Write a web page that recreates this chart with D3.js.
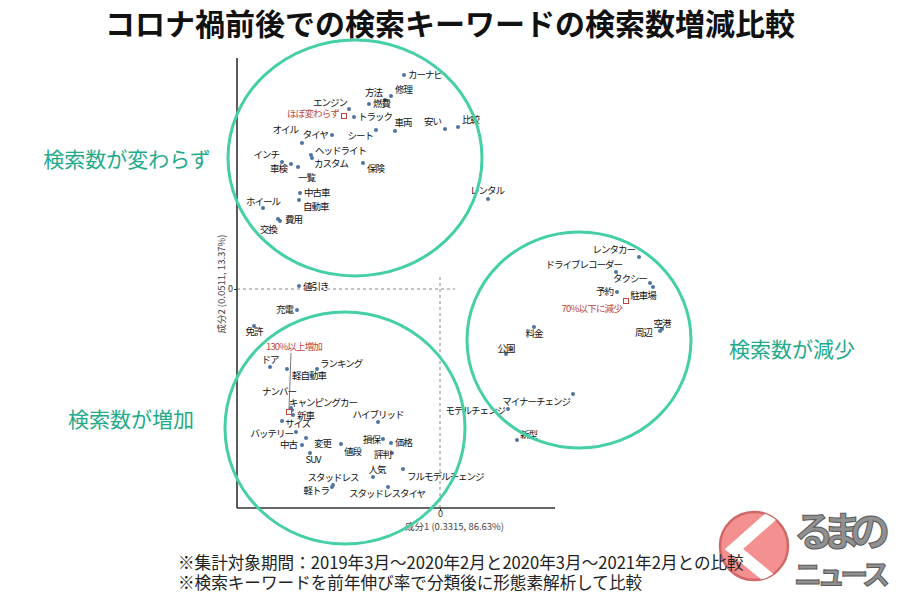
<!DOCTYPE html>
<html>
<head>
<meta charset="utf-8">
<script src="https://cdn.jsdelivr.net/npm/d3@7"></script>
<style>
  body { margin: 0; background: #fff; }
  text { font-family: "Noto Sans CJK JP", "Noto Sans", sans-serif; }
</style>
</head>
<body>
<script>
var w = 900;
var h = 600;

// 検索数が変わらず
var stableTerms = ["カーナビ","修理","方法","燃費","エンジン","トラック","車両","シート","安い","比較",
  "オイル","タイヤ","ヘッドライト","カスタム","保険","インチ","車検","一覧","中古車","自動車",
  "ホイール","費用","交換","レンタル"];
var stableDim1 = [-0.18,-0.245,-0.275,-0.355,-0.455,-0.43,-0.225,-0.32,0.025,0.09,
  -0.69,-0.54,-0.645,-0.64,-0.385,-0.79,-0.745,-0.71,-0.70,-0.705,
  -0.885,-0.80,-0.81,0.24];
var stableDim2 = [1.07,0.965,0.945,0.925,0.90,0.86,0.79,0.795,0.80,0.81,
  0.73,0.77,0.67,0.655,0.63,0.635,0.625,0.61,0.48,0.445,
  0.405,0.34,0.35,0.45];

// 検索数が増加
var increaseTerms = ["値引き","充電","免許","ドア","軽自動車","ランキング","ナンバー","キャンピングカー","新車","サイズ",
  "バッテリー","変更","中古","SUV","値段","ハイブリッド","損保","価格","評判","人気",
  "フルモデルチェンジ","スタッドレス","軽トラ","スタッドレスタイヤ"];
var increaseDim1 = [-0.705,-0.715,-0.93,-0.85,-0.765,-0.615,-0.745,-0.74,-0.735,-0.79,
  -0.72,-0.67,-0.69,-0.65,-0.495,-0.31,-0.285,-0.245,-0.24,-0.335,
  -0.185,-0.535,-0.54,-0.26];
var increaseDim2 = [0.015,-0.105,-0.185,-0.39,-0.40,-0.40,-0.595,-0.605,-0.63,-0.66,
  -0.715,-0.745,-0.78,-0.82,-0.775,-0.665,-0.75,-0.77,-0.82,-0.94,
  -0.90,-0.98,-0.99,-0.99];

// 検索数が減少
var decreaseTerms = ["レンタカー","ドライブレコーダー","タクシー","予約","駐車場","空港","周辺","料金","公園",
  "マイナーチェンジ","モデルチェンジ","新型"];
var decreaseDim1 = [0.995,0.88,1.05,0.885,1.065,1.11,1.10,0.47,0.33,0.665,0.34,0.385];
var decreaseDim2 = [0.16,0.085,0.03,-0.015,0.01,-0.20,-0.21,-0.19,-0.325,-0.525,-0.60,-0.755];

// 分類（赤い四角）
var groupNames = ["ほぼ変わらず","130%以上増加","70%以下に減少"];
var groupDim1 = [-0.48,-0.755,0.93];
var groupDim2 = [0.865,-0.615,-0.06];

var circleLabels = ["検索数が変わらず","検索数が増加","検索数が減少"];

var xLabel = "成分1 (0.3315, 86.63%)";
var yLabel = "成分2 (0.0511, 13.37%)";
var notes = ["※集計対象期間：2019年3月～2020年2月と2020年3月～2021年2月との比較",
  "※検索キーワードを前年伸び率で分類後に形態素解析して比較"];

// label placement: [dx, dy, anchor]
var lab = {
  "カーナビ":[4,0,"start"],"修理":[4,-6,"start"],"方法":[-3,-7,"end"],"燃費":[4,0,"start"],
  "エンジン":[-2,-6,"end"],"トラック":[4,0,"start"],"車両":[8,-8,"middle"],"シート":[-3,6,"end"],
  "安い":[-4,-7,"end"],"比較":[4,-7,"start"],"オイル":[-4,-13,"end"],"タイヤ":[-4,0,"end"],
  "ヘッドライト":[4,-4,"start"],"カスタム":[2,6,"start"],"保険":[4,6,"start"],"インチ":[-3,-7,"end"],
  "車検":[-4,5,"end"],"一覧":[0,11,"start"],"中古車":[4,0,"start"],"自動車":[4,7,"start"],
  "ホイール":[0,-6,"middle"],"費用":[5,-1,"start"],"交換":[-1,11,"end"],"レンタル":[-1,-8,"middle"],
  "値引き":[4,1,"start"],"充電":[-4,0,"end"],"免許":[0,6,"middle"],"ドア":[0,-7,"middle"],
  "軽自動車":[5,7,"start"],"ランキング":[3,-5,"start"],"ナンバー":[5,-16,"end"],"キャンピングカー":[-3,-7,"start"],
  "新車":[4,1,"start"],"サイズ":[3,3,"start"],"バッテリー":[-3,2,"end"],"変更":[8,6,"start"],
  "中古":[-5,0,"end"],"SUV":[3,7,"middle"],"値段":[3,8,"start"],"ハイブリッド":[0,-7,"middle"],
  "損保":[-3,1,"end"],"価格":[4,0,"start"],"評判":[-1,2,"end"],"人気":[4,-7,"middle"],
  "フルモデルチェンジ":[4,8,"start"],"スタッドレス":[0,-7,"middle"],"軽トラ":[-3,4,"end"],"スタッドレスタイヤ":[-1,7,"middle"],
  "レンタカー":[-4,-7,"end"],"ドライブレコーダー":[6,-7,"end"],"タクシー":[-3,-4,"end"],"予約":[-4,0,"end"],
  "駐車場":[-10,9,"middle"],"空港":[0,-5,"middle"],"周辺":[-8,2,"end"],"料金":[0,7,"middle"],
  "公園":[0,-5,"middle"],"マイナーチェンジ":[-3,8,"end"],"モデルチェンジ":[-3,2,"end"],"新型":[3,-5,"start"],
  "ほぼ変わらず":[-5,-2,"end"],"70%以下に減少":[-4,8,"end"]
};

var svg = d3.select("body").append("svg")
  .attr("width", w)
  .attr("height", h);

var x = d3.scaleLinear().domain([-1, 1]).range([240, 640]);
var y = d3.scaleLinear().domain([-1, 1]).range([489, 89]);

var xEnd = [-1.015, 0.575];
var yEnd = [-1.095, 1.155];

// title
svg.append("text")
  .attr("x", 450).attr("y", 35)
  .attr("text-anchor", "middle")
  .attr("font-size", 30).attr("font-weight", "bold").attr("fill", "#111")
  .text("コロナ禍前後での検索キーワードの検索数増減比較");

// logo (under the notes)
var logo = svg.append("g");
logo.append("clipPath").attr("id", "lc")
  .append("circle").attr("cx", 754).attr("cy", 546).attr("r", 34);
logo.append("circle")
  .attr("cx", 754).attr("cy", 546).attr("r", 34)
  .attr("fill", "#f49090").attr("stroke", "#d06868").attr("stroke-width", 2.5);
logo.append("polyline")
  .attr("clip-path", "url(#lc)")
  .attr("points", "776,512 734,549 776,584")
  .attr("fill", "none").attr("stroke", "#fff").attr("stroke-width", 12);
logo.append("text")
  .attr("x", 794).attr("y", 546)
  .attr("font-size", 40).attr("font-weight", "bold")
  .attr("fill", "#909090").attr("stroke", "#5a5a5a").attr("stroke-width", 1)
  .attr("textLength", 96)
  .text("るまの");
logo.append("text")
  .attr("x", 794).attr("y", 585)
  .attr("font-size", 28).attr("font-weight", "bold")
  .attr("fill", "#909090").attr("stroke", "#5a5a5a").attr("stroke-width", 1)
  .attr("textLength", 96)
  .text("ニュース");

// dashed zero lines
svg.append("line")
  .attr("x1", x(xEnd[0])).attr("x2", x(0.075))
  .attr("y1", y(0)).attr("y2", y(0))
  .attr("stroke", "#888").attr("stroke-dasharray", "3,3");
svg.append("line")
  .attr("x1", x(0)).attr("x2", x(0))
  .attr("y1", y(yEnd[0])).attr("y2", y(0.07))
  .attr("stroke", "#888").attr("stroke-dasharray", "3,3");

// axes
var gx = svg.append("g")
  .attr("transform", "translate(0," + y(yEnd[0]) + ")")
  .call(d3.axisBottom(x).tickValues([0]).tickFormat(d3.format("d")).tickSize(3).tickPadding(0));
gx.select(".domain").remove();
var gy = svg.append("g")
  .attr("transform", "translate(" + x(xEnd[0]) + ",0)")
  .call(d3.axisLeft(y).tickValues([0]).tickFormat(d3.format("d")).tickSize(3).tickPadding(1));
gy.select(".domain").remove();
svg.selectAll(".tick text").attr("font-size", 9).attr("fill", "#333")
  .attr("font-family", "'DejaVu Sans', sans-serif");
svg.selectAll(".tick line").attr("stroke", "#333");

svg.append("line")
  .attr("x1", x(xEnd[0])).attr("x2", x(xEnd[1]))
  .attr("y1", y(yEnd[0])).attr("y2", y(yEnd[0]))
  .attr("stroke", "#333").attr("stroke-width", 1.6);
svg.append("line")
  .attr("x1", x(xEnd[0])).attr("x2", x(xEnd[0]))
  .attr("y1", y(yEnd[0])).attr("y2", y(yEnd[1]))
  .attr("stroke", "#333").attr("stroke-width", 1.6);

svg.append("text")
  .attr("x", 405).attr("y", 530)
  .attr("font-size", 9.5).attr("fill", "#444")
  .text(xLabel);
svg.append("text")
  .attr("transform", "translate(225,284) rotate(-90)")
  .attr("text-anchor", "middle")
  .attr("font-size", 9.5).attr("fill", "#444")
  .text(yLabel);

// points
var pts = [];
function addGroup(terms, d1, d2) {
  terms.forEach(function(t, i) { pts.push({name: t, d1: d1[i], d2: d2[i]}); });
}
addGroup(stableTerms, stableDim1, stableDim2);
addGroup(increaseTerms, increaseDim1, increaseDim2);
addGroup(decreaseTerms, decreaseDim1, decreaseDim2);

svg.selectAll(".dot")
  .data(pts)
  .enter().append("circle")
  .attr("cx", function(d) { return x(d.d1); })
  .attr("cy", function(d) { return y(d.d2); })
  .attr("r", 2)
  .attr("fill", "#4f74a3");

svg.selectAll(".lbl")
  .data(pts)
  .enter().append("text")
  .attr("x", function(d) { return x(d.d1) + lab[d.name][0]; })
  .attr("y", function(d) { return y(d.d2) + lab[d.name][1]; })
  .attr("dy", "0.35em")
  .attr("text-anchor", function(d) { return lab[d.name][2]; })
  .attr("font-size", 9.5).attr("letter-spacing", -1)
  .attr("fill", "#111")
  .text(function(d) { return d.name; });

// group (red) points
var groups = groupNames.map(function(n, i) { return {name: n, d1: groupDim1[i], d2: groupDim2[i]}; });
svg.selectAll(".grp")
  .data(groups)
  .enter().append("rect")
  .attr("x", function(d) { return x(d.d1) - 2.5; })
  .attr("y", function(d) { return y(d.d2) - 2.5; })
  .attr("width", 5).attr("height", 5)
  .attr("fill", "#fff").attr("stroke", "#c0463c");

groups.forEach(function(d) {
  if (lab[d.name]) {
    svg.append("text")
      .attr("x", x(d.d1) + lab[d.name][0])
      .attr("y", y(d.d2) + lab[d.name][1])
      .attr("dy", "0.35em")
      .attr("text-anchor", lab[d.name][2])
      .attr("font-size", 9.5).attr("letter-spacing", -0.8).attr("fill", "#c0463c")
      .text(d.name);
  } else {
    // leader line label
    var px = x(d.d1), py = y(d.d2);
    svg.append("line")
      .attr("x1", px).attr("y1", py - 3)
      .attr("x2", px + 2).attr("y2", py - 59)
      .attr("stroke", "#555").attr("stroke-width", 0.8);
    svg.append("text")
      .attr("x", px + 5).attr("y", py - 65)
      .attr("dy", "0.35em")
      .attr("text-anchor", "middle")
      .attr("font-size", 9.5).attr("letter-spacing", -0.8).attr("fill", "#c0463c")
      .text(d.name);
  }
});

// circles around clusters
var rings = [
  {c: [-0.425, 0.655], r: [0.635, 0.59], label: circleLabels[0], at: [127, 160]},
  {c: [-0.475, -0.695], r: [0.60, 0.58], label: circleLabels[1], at: [131, 420]},
  {c: [0.695, -0.255], r: [0.56, 0.54], label: circleLabels[2], at: [792, 350]}
];
svg.selectAll(".ring")
  .data(rings)
  .enter().append("ellipse")
  .attr("cx", function(d) { return x(d.c[0]); })
  .attr("cy", function(d) { return y(d.c[1]); })
  .attr("rx", function(d) { return x(d.c[0] + d.r[0]) - x(d.c[0]); })
  .attr("ry", function(d) { return y(d.c[1]) - y(d.c[1] + d.r[1]); })
  .attr("fill", "none")
  .attr("stroke", "#45cfa6").attr("stroke-width", 3);

svg.selectAll(".ringlbl")
  .data(rings)
  .enter().append("text")
  .attr("x", function(d) { return d.at[0]; })
  .attr("y", function(d) { return d.at[1]; })
  .attr("dy", "0.35em")
  .attr("text-anchor", "middle")
  .attr("font-size", 21).attr("fill", "#1faa8a")
  .text(function(d) { return d.label; });

// notes
svg.selectAll(".note")
  .data(notes)
  .enter().append("text")
  .attr("x", 178)
  .attr("y", function(d, i) { return 569 + i * 20; })
  .attr("font-size", 16.6).attr("fill", "#222")
  .text(function(d) { return d; });
</script>
</body>
</html>
